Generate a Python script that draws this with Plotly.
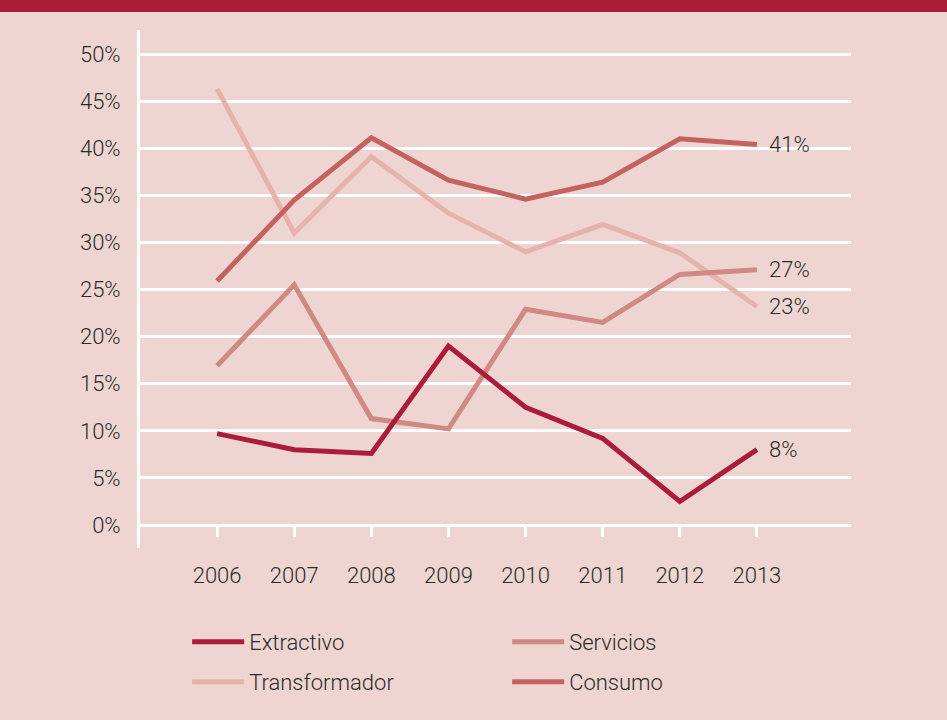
import plotly.graph_objects as go

# data (percent)
years = [2006, 2007, 2008, 2009, 2010, 2011, 2012, 2013]
extractivo = [9.7, 8.0, 7.6, 19.0, 12.5, 9.2, 2.5, 8.0]
servicios = [16.9, 25.5, 11.3, 10.2, 22.9, 21.5, 26.6, 27.1]
transformador = [46.3, 31.0, 39.1, 33.1, 29.0, 31.9, 28.9, 23.2]
consumo = [25.9, 34.5, 41.1, 36.6, 34.6, 36.4, 41.0, 40.4]
end_labels = ["8%", "27%", "23%", "41%"]

series = [
    ("Extractivo", extractivo, "#AA1C3A", "legend"),
    ("Servicios", servicios, "#D08983", "legend"),
    ("Transformador", transformador, "#E5B3AB", "legend2"),
    ("Consumo", consumo, "#C46260", "legend2"),
]

FONT = "Roboto, Liberation Sans, sans-serif"
BG = "#EFD5D1"
TXT = "#2B2B2B"
fnt = dict(family=FONT, size=22, color=TXT, weight=300)

fig = go.Figure()
# draw order: light ones first so the dark line stays on top
for name, vals, col, leg in [series[2], series[3], series[1], series[0]]:
    fig.add_trace(go.Scatter(
        x=years, y=vals, name=name, mode="lines",
        line=dict(color=col, width=5), legend=leg,
        hoverinfo="skip",
    ))

# value labels at the end of each line
for (name, vals, col, leg), lab in zip(series, end_labels):
    fig.add_annotation(
        x=years[-1], y=vals[-1], text=lab, showarrow=False,
        xanchor="left", yanchor="middle", xshift=10,
        font=fnt,
    )

# dark band across the top of the page
fig.add_shape(type="rect", xref="paper", yref="paper",
              x0=-0.25, x1=1.2, y0=1 + 18 / 518, y1=1 + 40 / 518,
              fillcolor="#A91C37", line_width=0, layer="above")

leg_common = dict(
    orientation="h", x=0.0663, xanchor="left", yanchor="middle",
    itemwidth=52, entrywidth=253, bgcolor="rgba(0,0,0,0)", font=fnt,
)

fig.update_layout(
    width=947, height=720,
    margin=dict(l=140, r=96, t=30, b=172, autoexpand=False),
    paper_bgcolor=BG, plot_bgcolor=BG,
    font=fnt,
    xaxis=dict(
        range=[2005, 2014.22], tickvals=years, showgrid=False,
        zeroline=False, showline=False,
        anchor="free", position=23 / 518,
        ticks="outside", ticklen=11, tickwidth=3, tickcolor="white",
        ticklabelstandoff=20,
    ),
    yaxis=dict(
        range=[-2.44, 52.55], tick0=0, dtick=5, ticksuffix="%",
        showgrid=True, gridcolor="white", gridwidth=2.5,
        zeroline=False, showline=True, linecolor="white", linewidth=3,
        ticks="", ticklabelstandoff=12,
    ),
    legend=dict(leg_common, y=(548 - 642) / 518, traceorder="reversed"),
    legend2=dict(leg_common, y=(548 - 682) / 518, traceorder="normal"),
    showlegend=True,
)

# page has a default 8px body margin; drop it so the figure sits at 0,0
fig.write_html("out.html", config={"displayModeBar": False},
               post_script="document.body.style.margin='0';")
